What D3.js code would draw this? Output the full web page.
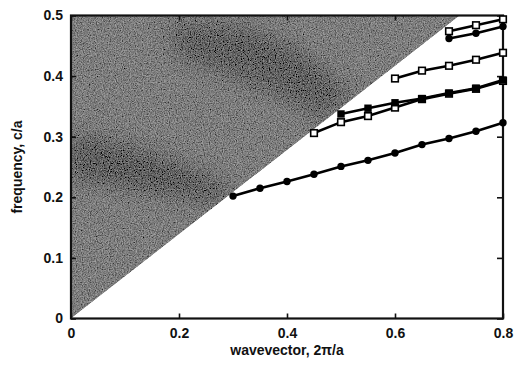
<!DOCTYPE html>
<html>
<head>
<meta charset="utf-8">
<script src="https://cdn.jsdelivr.net/npm/d3@7/dist/d3.min.js"></script>
<style>
  html, body { margin: 0; padding: 0; background: #fff; }
  svg { display: block; }
  text { font-family: "Liberation Sans", Arial, sans-serif; font-weight: bold; fill: #111; }
</style>
</head>
<body>
<svg id="chart" width="515" height="365"></svg>
<script>
// ---- data ----
const xTicks = [0, 0.2, 0.4, 0.6, 0.8];
const yTicks = [0, 0.1, 0.2, 0.3, 0.4, 0.5];
const xLabel = "wavevector, 2\u03c0/a";
const yLabel = "frequency, c/a";
const lightLineSlope = 1 / 1.44;   // light cone ω = k / n

// band 1: filled circles (lowest)
const band1K = [0.3, 0.35, 0.4, 0.45, 0.5, 0.55, 0.6, 0.65, 0.7, 0.75, 0.8];
const band1F = [0.202, 0.215, 0.226, 0.238, 0.251, 0.261, 0.273, 0.287, 0.297, 0.309, 0.323];
// band 2: open squares (lower middle)
const band2K = [0.45, 0.5, 0.55, 0.6, 0.65, 0.7, 0.75, 0.8];
const band2F = [0.306, 0.324, 0.334, 0.348, 0.362, 0.371, 0.379, 0.392];
// band 3: filled squares
const band3K = [0.5, 0.55, 0.6, 0.65, 0.7, 0.75, 0.8];
const band3F = [0.3375, 0.347, 0.356, 0.363, 0.372, 0.380, 0.3935];
// band 4: open squares (~0.4)
const band4K = [0.6, 0.65, 0.7, 0.75, 0.8];
const band4F = [0.396, 0.409, 0.417, 0.427, 0.4385];
// band 5: filled circles (top)
const band5K = [0.7, 0.75, 0.8];
const band5F = [0.462, 0.4706, 0.482];
// band 6: open squares (top)
const band6K = [0.7, 0.75, 0.8];
const band6F = [0.474, 0.484, 0.4937];

// darker regions of the projected bulk bands (inside the light cone shading)
const darkRegion1 = [[0, 0.305], [0.1, 0.285], [0.2, 0.255], [0.3, 0.215], [0.27, 0.19], [0.15, 0.21], [0.05, 0.225], [0, 0.23]];
const darkRegion2 = [[0.18, 0.49], [0.33, 0.48], [0.43, 0.44], [0.52, 0.37], [0.47, 0.33], [0.38, 0.37], [0.3, 0.40], [0.2, 0.43]];

// ---- layout ----
const svg = d3.select("#chart");
const W = 515, H = 365;
const margin = { left: 71, right: 12, top: 15.5, bottom: 46.5 };
const x = d3.scaleLinear().domain([0, 0.8]).range([margin.left, W - margin.right]);
const y = d3.scaleLinear().domain([0, 0.5]).range([H - margin.bottom, margin.top]);

const defs = svg.append("defs");
defs.append("clipPath").attr("id", "plotclip")
  .append("rect").attr("x", x(0)).attr("y", y(0.5))
  .attr("width", x(0.8) - x(0)).attr("height", y(0) - y(0.5));

const grain = defs.append("filter").attr("id", "grain")
  .attr("x", 0).attr("y", 0).attr("width", 1).attr("height", 1);
grain.append("feTurbulence").attr("type", "fractalNoise")
  .attr("baseFrequency", 0.85).attr("numOctaves", 2).attr("seed", 4).attr("result", "noise");
grain.append("feColorMatrix").attr("in", "noise").attr("type", "matrix")
  .attr("values", "1 0 0 0 0  1 0 0 0 0  1 0 0 0 0  0 0 0 0 1").attr("result", "gn");
grain.append("feComposite").attr("in", "SourceGraphic").attr("in2", "gn")
  .attr("operator", "arithmetic").attr("k1", 0).attr("k2", 1).attr("k3", 0.55).attr("k4", -0.275)
  .attr("result", "mix");
grain.append("feComposite").attr("in", "mix").attr("in2", "SourceAlpha").attr("operator", "in");

const soft = defs.append("filter").attr("id", "soft")
  .attr("x", "-40%").attr("y", "-40%").attr("width", "180%").attr("height", "180%");
soft.append("feGaussianBlur").attr("stdDeviation", 10);

// ---- light cone shading ----
const kTop = 0.5 / lightLineSlope;
const conePath = d3.line().x(d => x(d[0])).y(d => y(d[1]));
const cone = [[0, 0], [kTop, 0.5], [0, 0.5]];

defs.append("clipPath").attr("id", "coneclip")
  .append("path").attr("d", conePath(cone) + "Z");

const shade = svg.append("g").attr("clip-path", "url(#plotclip)");
const shadeInner = shade.append("g").attr("clip-path", "url(#coneclip)");
const shadeLayer = shadeInner.append("g").attr("filter", "url(#grain)");
shadeLayer.append("path").attr("d", conePath(cone) + "Z")
  .attr("fill", "#7d7d7d");
shadeLayer.append("path").attr("d", conePath(darkRegion1) + "Z")
  .attr("fill", "#3a3a3a").attr("opacity", 0.45).attr("filter", "url(#soft)");
shadeLayer.append("path").attr("d", conePath(darkRegion2) + "Z")
  .attr("fill", "#3a3a3a").attr("opacity", 0.4).attr("filter", "url(#soft)");

// ---- axes ----
const fmt = d => d === 0 ? "0" : d3.format(".1f")(d);
const gx = svg.append("g").attr("transform", `translate(0,${y(0)})`)
  .call(d3.axisBottom(x).tickValues(xTicks).tickFormat(fmt).tickSize(-5).tickPadding(10));
const gxt = svg.append("g").attr("transform", `translate(0,${y(0.5)})`)
  .call(d3.axisTop(x).tickValues(xTicks).tickFormat("").tickSize(-5));
const gy = svg.append("g").attr("transform", `translate(${x(0)},0)`)
  .call(d3.axisLeft(y).tickValues(yTicks).tickFormat(fmt).tickSize(-5).tickPadding(8));
const gyr = svg.append("g").attr("transform", `translate(${x(0.8)},0)`)
  .call(d3.axisRight(y).tickValues(yTicks).tickFormat("").tickSize(-6));
[gx, gxt, gy, gyr].forEach(g => {
  g.select(".domain").remove();
  g.selectAll(".tick line").attr("stroke", "#111").attr("stroke-width", 1.6);
  g.selectAll(".tick text").attr("font-size", 14).attr("fill", "#111")
    .attr("font-family", "Liberation Sans, Arial, sans-serif").attr("font-weight", "bold");
});

svg.append("rect").attr("x", x(0)).attr("y", y(0.5))
  .attr("width", x(0.8) - x(0)).attr("height", y(0) - y(0.5))
  .attr("fill", "none").attr("stroke", "#111").attr("stroke-width", 2.2);

// axis titles
svg.append("text").attr("x", (x(0) + x(0.8)) / 2).attr("y", 355)
  .attr("text-anchor", "middle").attr("font-size", 14).text(xLabel);
svg.append("text").attr("transform", `translate(22,${(y(0) + y(0.5)) / 2}) rotate(-90)`)
  .attr("text-anchor", "middle").attr("font-size", 14).text(yLabel);

// ---- bands ----
const line = d3.line().x(d => x(d[0])).y(d => y(d[1]));
const plot = svg.append("g");
function drawBand(ks, fs, type) {
  const pts = ks.map((k, i) => [k, fs[i]]);
  plot.append("path").attr("d", line(pts)).attr("fill", "none")
    .attr("stroke", "#000").attr("stroke-width", 2.6);
  const g = plot.append("g");
  if (type === "circle") {
    g.selectAll("circle").data(pts).join("circle")
      .attr("cx", d => x(d[0])).attr("cy", d => y(d[1])).attr("r", 3.7).attr("fill", "#000");
  } else {
    const s = type === "open" ? 6.6 : 7.4;
    g.selectAll("rect").data(pts).join("rect")
      .attr("x", d => x(d[0]) - s / 2).attr("y", d => y(d[1]) - s / 2)
      .attr("width", s).attr("height", s)
      .attr("fill", type === "open" ? "#fff" : "#000")
      .attr("stroke", "#000").attr("stroke-width", type === "open" ? 1.6 : 0);
  }
}
drawBand(band1K, band1F, "circle");
drawBand(band2K, band2F, "open");
drawBand(band3K, band3F, "filled");
drawBand(band4K, band4F, "open");
drawBand(band5K, band5F, "circle");
drawBand(band6K, band6F, "open");
</script>
</body>
</html>
